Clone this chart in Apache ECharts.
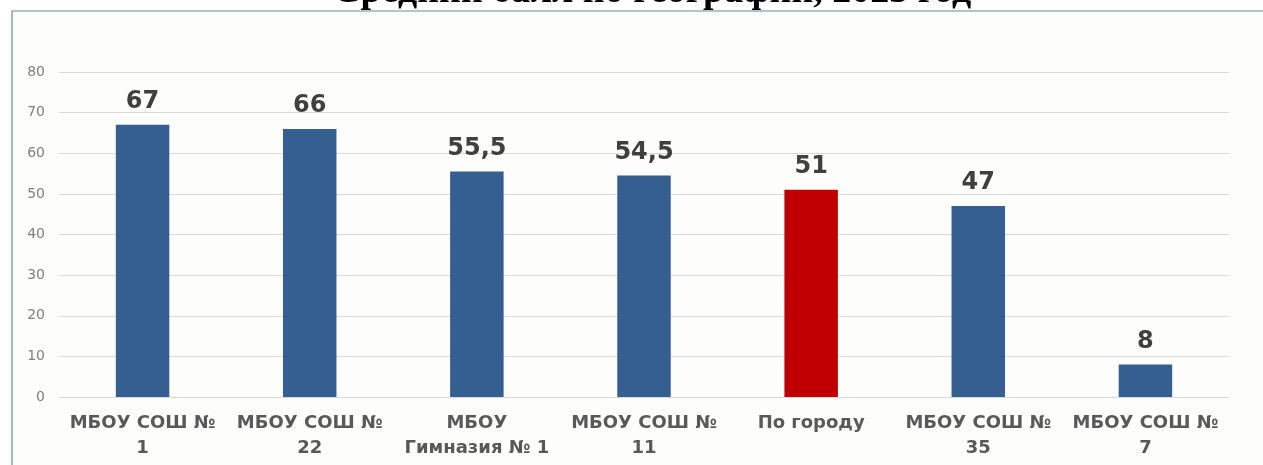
<!DOCTYPE html>
<html>
<head>
<meta charset="utf-8">
<script src="https://cdn.jsdelivr.net/npm/echarts@6/dist/echarts.min.js"></script>
<style>
  html, body { margin: 0; padding: 0; background: #fff; }
  #main { width: 1263px; height: 465px; }
</style>
</head>
<body>
<div id="main"></div>
<script>
// данные
const schools = ['МБОУ СОШ №\n1', 'МБОУ СОШ №\n22', 'МБОУ\nГимназия № 1', 'МБОУ СОШ №\n11', 'По городу', 'МБОУ СОШ №\n35', 'МБОУ СОШ №\n7']
const scores = [67, 66, 55.5, 54.5, 51, 47, 8]
const cityIndex = 4
const yTicks = [0, 80, 10]

const blue = '#365f91'
const red = '#c00000'
const font = 'DejaVu Sans'

const myChart = echarts.init(document.getElementById('main'))

const option = {
  backgroundColor: '#ffffff',
  animation: false,
  title: {
    // заголовок почти срезан верхним краем, как на исходнике
    text: 'Средний балл по географии, 2023 год',
    left: 328,
    top: -32,
    textStyle: {
      fontFamily: 'Liberation Serif',
      fontSize: 38,
      fontWeight: 'bold',
      color: '#000'
    }
  },
  graphic: [
    {
      // рамка
      type: 'rect',
      shape: { x: 12, y: 11, width: 1270, height: 470 },
      style: { fill: '#fdfdfc', stroke: '#5f8ea3', lineWidth: 1.2 },
      z: -10
    }
  ],
  grid: {
    left: 59,
    right: 34,
    top: 72,
    bottom: 68
  },
  xAxis: {
    type: 'category',
    data: schools,
    axisLine: { show: false },
    axisTick: { show: false },
    axisLabel: {
      interval: 0,
      margin: 14,
      fontFamily: font,
      fontSize: 18,
      fontWeight: 'bold',
      lineHeight: 25,
      color: '#595959'
    }
  },
  yAxis: {
    type: 'value',
    min: yTicks[0],
    max: yTicks[1],
    interval: yTicks[2],
    axisLine: { show: false },
    axisTick: { show: false },
    axisLabel: {
      margin: 14,
      fontFamily: font,
      fontSize: 14,
      color: '#7f7f7f'
    },
    splitLine: {
      lineStyle: { color: '#d9d9d9', width: 1 }
    }
  },
  series: [
    {
      type: 'bar',
      barWidth: '32%',
      data: scores.map(function (v, i) {
        return {
          value: v,
          itemStyle: { color: i === cityIndex ? red : blue }
        }
      }),
      label: {
        show: true,
        position: 'top',
        distance: 11,
        fontFamily: font,
        fontSize: 24,
        fontWeight: 'bold',
        color: '#404040',
        formatter: function (p) {
          return String(p.value).replace('.', ',')
        }
      }
    }
  ]
}

myChart.setOption(option)
</script>
</body>
</html>
